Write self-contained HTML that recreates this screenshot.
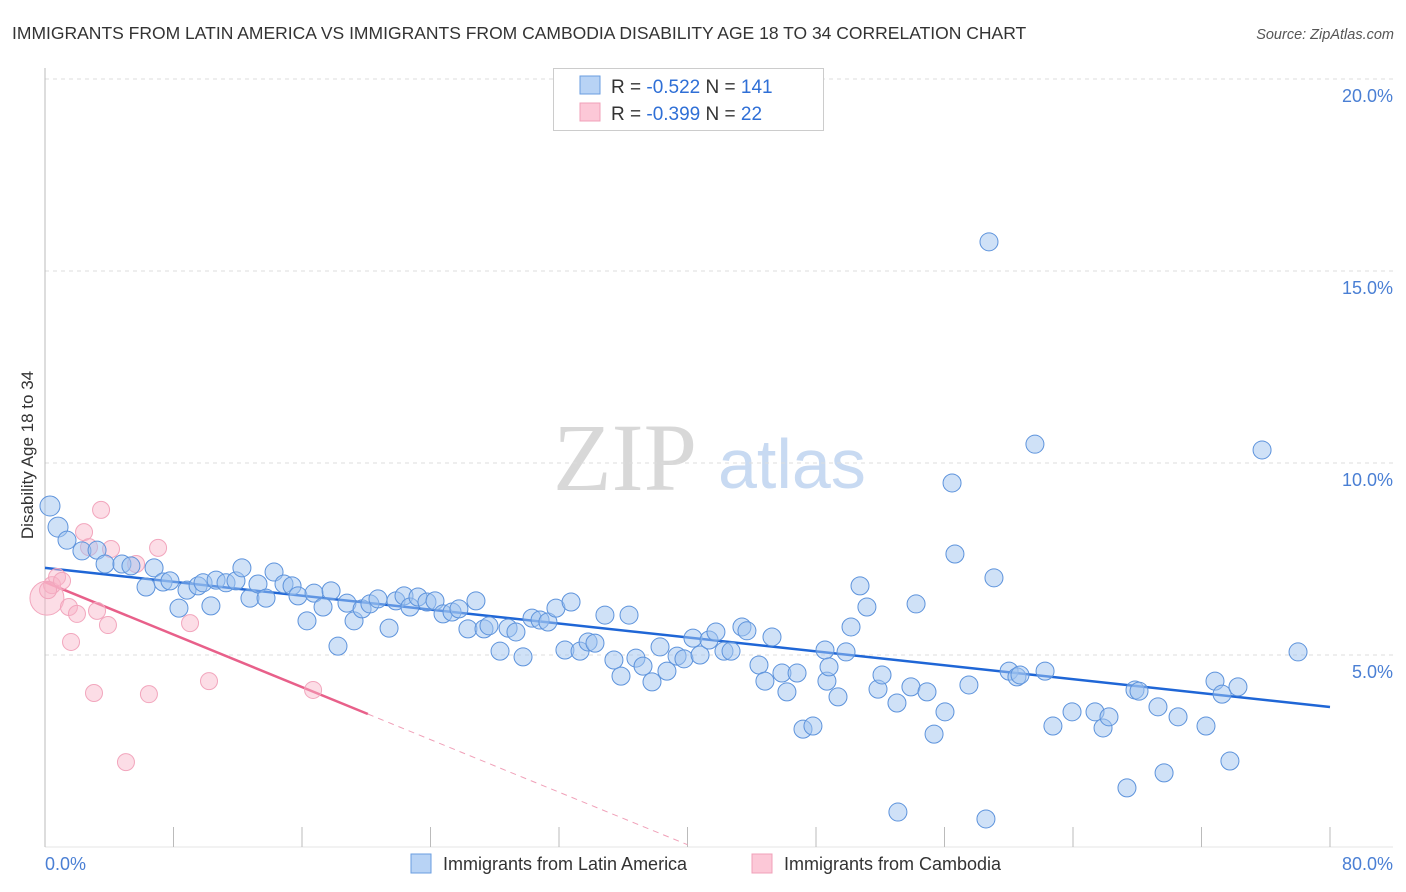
<!DOCTYPE html>
<html><head><meta charset="utf-8"><style>
body{margin:0;background:#fff;font-family:"Liberation Sans",sans-serif;}
svg{display:block}
</style></head><body>
<svg id="chart" width="1406" height="892" viewBox="0 0 1406 892" xmlns="http://www.w3.org/2000/svg">
<text x="12" y="39" font-size="17.5" fill="#333">IMMIGRANTS FROM LATIN AMERICA VS IMMIGRANTS FROM CAMBODIA DISABILITY AGE 18 TO 34 CORRELATION CHART</text>
<text x="1394" y="39" font-size="14.5" fill="#555" font-style="italic" text-anchor="end">Source: ZipAtlas.com</text>
<g>
<text x="553" y="490" font-family="Liberation Serif,serif" font-size="96" fill="#d8d8d8">ZIP</text>
<text x="718" y="488" font-size="70" fill="#c8daf2">atlas</text>
</g>
<g id="grid"></g>
<g id="axes"></g>
<text transform="translate(33,455) rotate(-90)" font-size="17" fill="#333" text-anchor="middle">Disability Age 18 to 34</text>
<g id="trend"></g>
<g id="pts"></g>
<g>
<rect x="553.5" y="68.5" width="270" height="62" fill="#fff" stroke="#ccc"/>
<rect x="580" y="76" width="20" height="18" fill="#b8d3f5" stroke="#6a9ee0"/>
<rect x="580" y="103" width="20" height="18" fill="#fcc8d7" stroke="#f0a0b8"/>
<text x="611" y="93" font-size="19" fill="#333">R = <tspan fill="#2f6fd6">-0.522</tspan>   N = <tspan fill="#2f6fd6">141</tspan></text>
<text x="611" y="120" font-size="19" fill="#333">R = <tspan fill="#2f6fd6">-0.399</tspan>   N =  <tspan fill="#2f6fd6"> 22</tspan></text>
</g>
<g>
<rect x="411" y="854" width="20" height="19" fill="#b8d3f5" stroke="#6a9ee0"/>
<text x="443" y="870" font-size="18" fill="#333">Immigrants from Latin America</text>
<rect x="752" y="854" width="20" height="19" fill="#fcc8d7" stroke="#f0a0b8"/>
<text x="784" y="870" font-size="18" fill="#333">Immigrants from Cambodia</text>
</g>
</svg>
<script>
const blueX=[0.31,0.81,1.37,2.30,3.24,3.74,4.79,5.35,6.79,6.29,7.35,7.78,8.34,8.84,9.53,9.84,10.33,10.65,11.27,11.89,12.26,12.76,13.26,13.76,14.26,14.88,15.38,15.75,16.31,16.75,17.31,17.81,18.24,18.80,19.24,19.74,20.23,20.73,21.42,21.85,22.35,22.72,23.22,23.78,24.28,24.78,25.34,25.77,26.33,26.83,27.33,27.64,28.33,28.83,29.32,29.76,30.32,30.82,31.31,31.81,32.37,32.75,33.31,33.81,34.24,34.86,35.42,35.86,36.36,36.79,37.23,37.79,38.29,38.72,39.35,39.78,40.34,40.78,41.34,41.77,42.27,42.71,43.39,43.70,44.45,44.82,45.26,45.88,46.19,46.82,47.19,47.81,48.56,48.68,48.81,49.37,49.87,50.18,50.74,51.17,51.86,52.11,53.04,53.91,54.23,54.91,56.03,56.47,56.65,55.35,57.52,58.77,59.08,60.02,60.51,60.70,61.63,62.26,62.75,63.94,65.37,65.87,66.24,67.36,67.86,68.11,69.29,69.67,70.54,72.28,72.84,73.28,73.77,74.27,75.77,78.01,53.10,58.58];
const blueY=[8.88,8.33,7.99,7.71,7.73,7.37,7.37,7.32,7.27,6.77,6.90,6.93,6.22,6.69,6.80,6.88,6.28,6.95,6.88,6.93,7.27,6.48,6.85,6.48,7.16,6.85,6.80,6.54,5.89,6.61,6.25,6.67,5.23,6.35,5.89,6.20,6.33,6.46,5.70,6.41,6.54,6.25,6.51,6.38,6.41,6.07,6.12,6.20,5.68,6.41,5.68,5.76,5.10,5.70,5.60,4.95,5.96,5.91,5.86,6.22,5.13,6.38,5.10,5.34,5.31,6.04,4.87,4.45,6.04,4.92,4.71,4.30,5.21,4.58,4.97,4.90,5.44,5.00,5.39,5.60,5.10,5.10,5.73,5.63,4.74,4.32,5.47,4.53,4.04,4.53,3.07,3.15,5.13,4.32,4.69,3.91,5.08,5.73,6.80,6.25,4.11,4.48,3.75,4.17,6.33,4.04,3.52,9.48,7.63,2.94,4.22,15.76,7.01,4.58,4.43,4.48,10.49,4.58,3.15,3.52,3.52,3.10,3.39,1.54,4.09,4.06,3.65,1.93,3.39,3.15,4.32,3.98,2.24,4.17,10.34,5.08,0.91,0.73];
const pinkX=[0.12,0.44,0.75,1.06,1.49,1.62,1.99,2.43,2.74,3.05,3.24,3.49,3.92,4.11,5.04,5.67,6.47,7.04,9.03,10.21,16.69,0.19];
const pinkY=[6.48,6.82,7.03,6.93,6.25,5.34,6.07,8.20,7.81,4.01,6.15,8.78,5.78,7.76,2.21,7.37,3.98,7.79,5.83,4.32,4.09,6.69];
const blueTrend=[7.27,-0.0453];
const pinkTrend=[6.90,-0.171];
const yTicks=[5,10,15,20];
const yTickLabels=["5.0%","10.0%","15.0%","20.0%"];
const xTicks=[0,8,16,24,32,40,48,56,64,72,80];
const xEndLabels=["0.0%","80.0%"];
const NS="http://www.w3.org/2000/svg";
const X=v=>45+v*1285/80, Y=v=>847-v*38.4;
function mk(t,a,p){const e=document.createElementNS(NS,t);for(const k in a)e.setAttribute(k,a[k]);p.appendChild(e);return e;}
const grid=document.getElementById('grid'),axes=document.getElementById('axes'),pts=document.getElementById('pts'),tr=document.getElementById('trend');
yTicks.forEach((v,i)=>{
 const l=mk('line',{x1:45,x2:1393,y1:Y(v),y2:Y(v),stroke:'#ddd','stroke-dasharray':'4,4'},grid);
 
 
 const t=mk('text',{x:1393,y:Y(v)+23,'font-size':18,fill:'#4a7fd4','text-anchor':'end'},axes);
 t.textContent=yTickLabels[i];
 
 
});
const al=mk('line',{x1:45,x2:45,y1:68,y2:847,stroke:'#bbb'},axes);


const bl=mk('line',{x1:45,x2:1393,y1:847,y2:847,stroke:'#e4e4e4'},axes);


xTicks.forEach(v=>{
 const l=mk('line',{x1:X(v),x2:X(v),y1:827,y2:847,stroke:'#bbb'},axes);
 
 
});
const xl0=mk('text',{x:45,y:870,'font-size':18,fill:'#4a7fd4'},axes);xl0.textContent=xEndLabels[0];


const xl1=mk('text',{x:1393,y:870,'font-size':18,fill:'#4a7fd4','text-anchor':'end'},axes);xl1.textContent=xEndLabels[1];


pinkX.forEach((x,i)=>{
 const c=mk('circle',{cx:X(x),cy:Y(pinkY[i]),r:i===0?17:8.5,fill:'rgba(248,180,200,0.45)',stroke:'#f2a6bd','stroke-width':1},pts);
 
 
});
blueX.forEach((x,i)=>{
 const c=mk('circle',{cx:X(x),cy:Y(blueY[i]),r:i<2?10:9,fill:'rgba(160,196,240,0.5)',stroke:'#5d93dc','stroke-width':1},pts);
 
 
});
const b=mk('line',{x1:X(0),y1:Y(blueTrend[0]),x2:X(80),y2:Y(blueTrend[0]+blueTrend[1]*80),stroke:'#1f66d6','stroke-width':2.5},tr);


const pe=20.1;
const p1=mk('line',{x1:X(0),y1:Y(pinkTrend[0]),x2:X(pe),y2:Y(pinkTrend[0]+pinkTrend[1]*pe),stroke:'#e8608a','stroke-width':2.5},tr);


const pd=40;
const p2=mk('line',{x1:X(pe),y1:Y(pinkTrend[0]+pinkTrend[1]*pe),x2:X(pd),y2:Y(pinkTrend[0]+pinkTrend[1]*pd),stroke:'#f0a0b8','stroke-width':1,'stroke-dasharray':'6,5'},tr);


</script>
</body></html>
